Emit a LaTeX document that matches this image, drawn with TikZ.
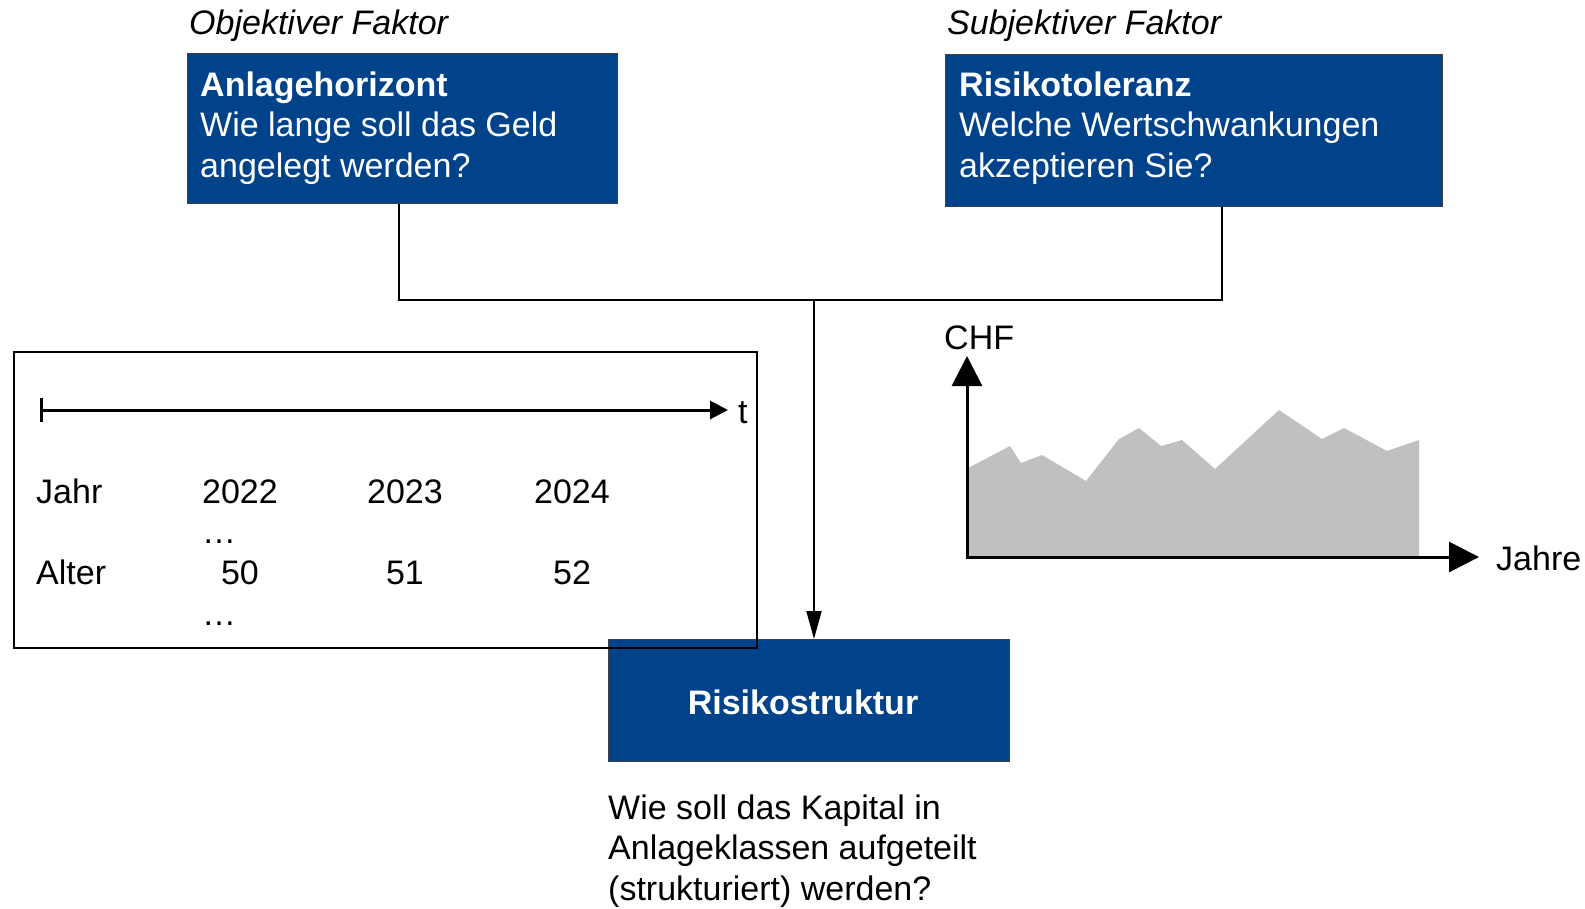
\documentclass[tikz,border=0pt]{standalone}
\usepackage{fontspec}
\setmainfont{Liberation Sans}
\usetikzlibrary{arrows.meta}
\definecolor{boxblue}{RGB}{0,67,138}
\definecolor{chartgray}{RGB}{192,192,192}
\begin{document}
\begin{tikzpicture}[x=1pt,y=-1pt,
  txt/.style={font=\fontsize{34}{40.5}\selectfont, inner sep=0pt, anchor=base west},
  ctxt/.style={font=\fontsize{34}{40.5}\selectfont, inner sep=0pt, anchor=base},
  wtxt/.style={txt, text=white},
  bluebox/.style={draw=black!75, line width=1.2pt, fill=boxblue, inner sep=0pt, anchor=north west},
  conn/.style={draw=black, line width=2pt},
  axis/.style={draw=black, line width=3pt, line join=miter}]
\useasboundingbox (0,0) rectangle (1585,908);

% top labels
\node[txt, font=\fontsize{34}{40.5}\selectfont\itshape] (lobj) at (189,34) {Objektiver Faktor};
\node[txt, font=\fontsize{34}{40.5}\selectfont\itshape] (lsub) at (947,34) {Subjektiver Faktor};

% blue boxes
\node[bluebox, minimum width=430, minimum height=150] (b1) at (187,53) {};
\node[wtxt, font=\fontsize{34}{40.5}\selectfont\bfseries] (b1a) at (200,96) {Anlagehorizont};
\node[wtxt] (b1b) at (200,136.5) {Wie lange soll das Geld};
\node[wtxt] (b1c) at (200,177) {angelegt werden?};

\node[bluebox, minimum width=497, minimum height=152] (b2) at (945,54) {};
\node[wtxt, font=\fontsize{34}{40.5}\selectfont\bfseries] (b2a) at (959,96) {Risikotoleranz};
\node[wtxt] (b2b) at (959,136.5) {Welche Wertschwankungen};
\node[wtxt] (b2c) at (959,177) {akzeptieren Sie?};

\node[bluebox, minimum width=401, minimum height=122] (rs) at (608,639) {};
\node[font=\fontsize{34}{40.5}\selectfont\bfseries, text=white, inner sep=0pt] (rst) at (803,702) {Risikostruktur};

% connectors
\coordinate (j) at (814,300);
\draw[conn] ([xshift=-4pt]b1.south) |- (j) -| ([xshift=28pt]b2.south);
\draw[conn, -{Triangle[length=28pt,width=15pt]}] (j) -- (rs.north -| j);

% timeline box
\node[draw=black, line width=2pt, inner sep=0pt, minimum width=743, minimum height=296, anchor=north west] (tl) at (13,351) {};
\coordinate (t0) at (40,410);
\coordinate (t1) at (728,410);
\draw[line width=3pt, {Bar[width=24pt]}-{Triangle[length=18pt,width=18pt]}] (t0) -- (t1);
\node[txt] (tt) at (738,423) {t};
\node[txt] (jahr) at (36,503) {Jahr};
\node[ctxt] (y1) at (240,503) {2022};
\node[ctxt] (y2) at (405,503) {2023};
\node[ctxt] (y3) at (572,503) {2024};
\node[txt] (d1) at (202,543) {…};
\node[txt] (alter) at (36,584) {Alter};
\node[ctxt] (a1) at (240,584) {50};
\node[ctxt] (a2) at (405,584) {51};
\node[ctxt] (a3) at (572,584) {52};
\node[txt] (d2) at (202,625) {…};

% question below
\node[txt] (q1) at (608,819) {Wie soll das Kapital in};
\node[txt] (q2) at (608,859.5) {Anlageklassen aufgeteilt};
\node[txt] (q3) at (608,900) {(strukturiert) werden?};

% chart
\fill[chartgray] (968,468) -- (1010,446) -- (1021,463) -- (1042,455) -- (1086,481)
  -- (1119,439) -- (1139,428) -- (1161,446) -- (1182,440) -- (1215,469)
  -- (1279,410) -- (1322,439) -- (1344,428) -- (1387,451) -- (1419,440)
  -- (1419,556) -- (968,556) -- cycle;
\coordinate (o) at (967,557);
\coordinate (ytip) at (967,356);
\coordinate (xtip) at (1479,557);
\draw[axis, {Triangle[length=30pt,width=30pt]}-{Triangle[length=30pt,width=30pt]}] (ytip) -- (o) -- (xtip);
\node[txt] (chf) at (944,349) {CHF};
\node[txt] (jahre) at (1496,570) {Jahre};
\end{tikzpicture}
\end{document}
